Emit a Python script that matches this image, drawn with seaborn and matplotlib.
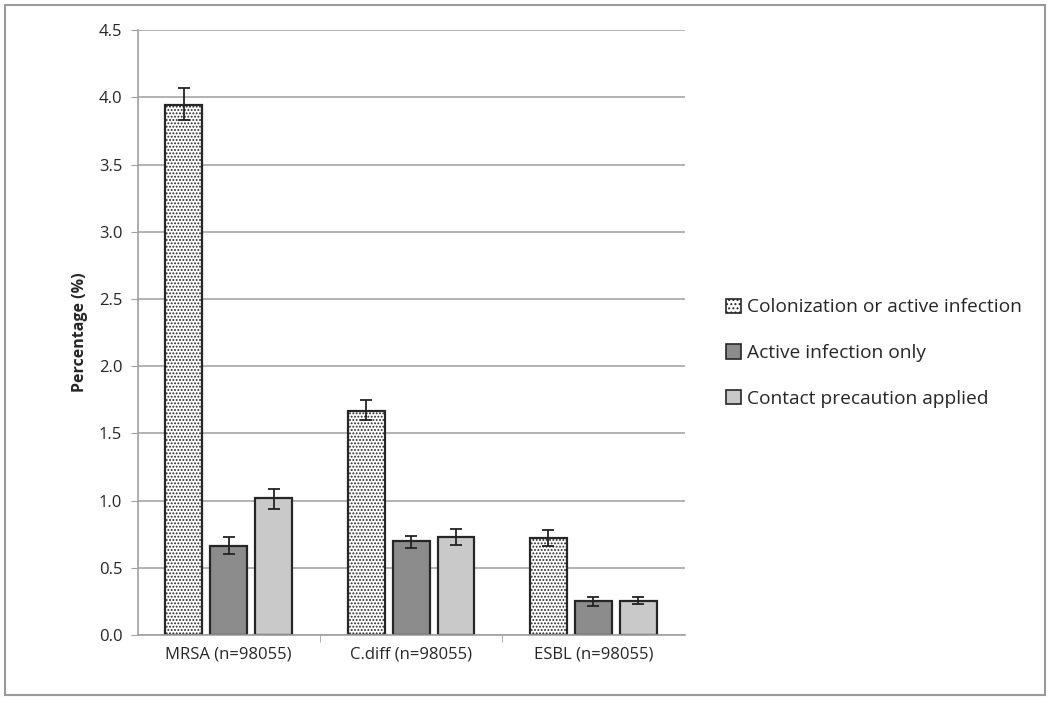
import numpy as np
import pandas as pd
import matplotlib
matplotlib.use("Agg")
import matplotlib.pyplot as plt
import seaborn as sns
from matplotlib.patches import Rectangle, Patch

# values
categories = ["MRSA (n=98055)", "C.diff (n=98055)", "ESBL (n=98055)"]
series = ["Colonization or active infection", "Active infection only", "Contact precaution applied"]

colon = [3.94, 1.67, 0.72]
colon_lo = [3.83, 1.60, 0.66]
colon_hi = [4.07, 1.75, 0.78]

active = [0.66, 0.70, 0.25]
active_lo = [0.60, 0.65, 0.22]
active_hi = [0.73, 0.74, 0.28]

contact = [1.02, 0.73, 0.255]
contact_lo = [0.94, 0.67, 0.23]
contact_hi = [1.09, 0.79, 0.285]

sns.set_style("white")
plt.rcParams["font.family"] = ["Open Sans", "DejaVu Sans"]
plt.rcParams["hatch.linewidth"] = 0.9
plt.rcParams["hatch.color"] = "#111111"

df = pd.DataFrame({
    "cat": categories * 3,
    "series": [series[0]] * 3 + [series[1]] * 3 + [series[2]] * 3,
    "val": colon + active + contact,
})
lows = [colon_lo, active_lo, contact_lo]
highs = [colon_hi, active_hi, contact_hi]
vals = [colon, active, contact]

fig = plt.figure(figsize=(10.5, 7.01), dpi=100)
ax = fig.add_axes([0.131, 0.094, 0.521, 0.863])

colors = ["white", "#8c8c8c", "#c9c9c9"]
sns.barplot(data=df, x="cat", y="val", hue="series", hue_order=series, order=categories,
            palette=colors, width=0.74, gap=0.18, edgecolor="#262626", linewidth=1.6,
            errorbar=None, legend=False, ax=ax)

bar_groups = list(ax.containers)
for i, cont in enumerate(bar_groups):
    xs = [p.get_x() + p.get_width() / 2 for p in cont.patches]
    v = np.array(vals[i])
    yerr = [v - np.array(lows[i]), np.array(highs[i]) - v]
    ax.errorbar(xs, v, yerr=yerr, fmt="none", ecolor="#222222", elinewidth=1.3,
                capsize=4, capthick=1.3, zorder=5)
    if i == 0:
        for p in cont.patches:
            p.set_hatch(".....")

ax.set_ylim(0, 4.5)
ax.set_yticks(np.arange(0, 4.51, 0.5))
ax.set_yticklabels([f"{t:.1f}" for t in np.arange(0, 4.51, 0.5)], fontsize=12)
ax.set_xlim(-0.5, 2.5)
ax.set_xlabel("")
ax.set_ylabel("Percentage (%)", fontsize=11.5, fontweight="bold", labelpad=8)
ax.tick_params(axis="x", which="major", length=0, labelsize=12, pad=8)
ax.set_xticks([0.5, 1.5], minor=True)
ax.tick_params(axis="x", which="minor", length=5, color="#a0a0a0", direction="out", bottom=True)
ax.tick_params(axis="y", length=5, color="#a0a0a0", direction="out", left=True, pad=6)

ax.yaxis.grid(True, color="#a6a6a6", linewidth=1.2)
ax.set_axisbelow(True)
for s in ["top", "right"]:
    ax.spines[s].set_visible(False)
for s in ["left", "bottom"]:
    ax.spines[s].set_color("#a0a0a0")
    ax.spines[s].set_linewidth(1.2)

handles = [Patch(facecolor=c, edgecolor="#262626", linewidth=1.2) for c in colors]
handles[0].set_hatch("....")
ax.legend(handles, series, loc="center left", bbox_to_anchor=(1.045, 0.466), frameon=False,
          fontsize=13.8, handlelength=0.75, handleheight=0.75, handletextpad=0.3, labelspacing=1.45)

fig.patches.append(Rectangle((0.005, 0.008), 0.99, 0.985, transform=fig.transFigure,
                             fill=False, edgecolor="#9a9a9a", linewidth=1.5))

fig.savefig("out.png", dpi=100)
